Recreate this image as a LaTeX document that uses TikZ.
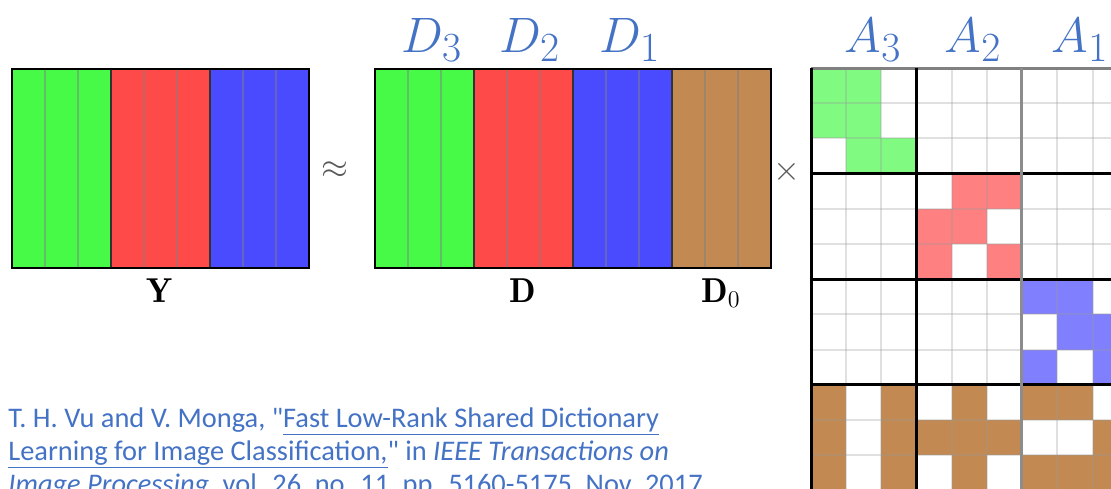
\documentclass[tikz,border=0pt]{standalone}
\usepackage{fontspec}
\newfontfamily\citefont{Carlito}
\definecolor{YGreen}{RGB}{72,250,72}
\definecolor{YRed}{RGB}{255,74,74}
\definecolor{YBlue}{RGB}{74,74,255}
\definecolor{DBrown}{RGB}{194,138,82}
\definecolor{AGreen}{RGB}{128,250,128}
\definecolor{ARed}{RGB}{255,128,128}
\definecolor{ABlue}{RGB}{128,128,255}
\definecolor{LabelBlue}{RGB}{68,114,196}

\begin{document}
\begin{tikzpicture}[x=0.5pt, y=-0.5pt,
    colsep/.style={draw=black!50, draw opacity=0.5, line width=0.7pt},
    blocksep/.style={draw=black!80, line width=0.9pt},
    gridline/.style={draw=black!40, draw opacity=0.3, line width=1pt},
    ablock/.style={draw=black, line width=1.5pt},
    sublbl/.style={LabelBlue, anchor=base, inner sep=0pt, font=\fontsize{24.88}{28}\selectfont},
    matlbl/.style={anchor=base, inner sep=0pt, font=\fontsize{17.28}{18}\selectfont},
    oplbl/.style={black!65, inner sep=0pt, font=\fontsize{17.28}{18}\selectfont},
    citeline/.style={LabelBlue, anchor=base west, inner sep=0pt, font=\citefont\fontsize{14.2}{16.5}\selectfont}]
  \useasboundingbox (0,0) rectangle (1111,488);
  \clip (0,0) rectangle (1111,488);

  % Y
  \foreach \clr [count=\k from 0] in {YGreen,YRed,YBlue}
    \fill[\clr] (12+99*\k,69) rectangle ++(99,199);
  \foreach \i in {1,2,4,5,7,8}
    \draw[colsep] (12+33*\i,69) -- ++(0,199);
  \foreach \i in {3,6}
    \draw[blocksep] (12+33*\i,69) -- ++(0,199);
  \draw[line width=1pt] (12,69) rectangle (309,268);
  \node[matlbl] (ylbl) at (160,302) {$\mathbf{Y}$};

  \node[oplbl] (approx) at (335,170) {$\approx$};

  % D = [D_3 D_2 D_1 D_0]
  \foreach \clr [count=\k from 0] in {YGreen,YRed,YBlue,DBrown}
    \fill[\clr] (375+99*\k,69) rectangle ++(99,199);
  \foreach \i in {1,2,4,5,7,8,10,11}
    \draw[colsep] (375+33*\i,69) -- ++(0,199);
  \foreach \i in {3,6,9}
    \draw[blocksep] (375+33*\i,69) -- ++(0,199);
  \draw[line width=1pt] (375,69) rectangle (771,268);
  \node[matlbl] (dlbl) at (523,302) {$\mathbf{D}$};
  \node[matlbl] (dzlbl) at (721,302) {$\mathbf{D}_0$};
  \node[sublbl] (d3) at (432,52) {$D_3$};
  \node[sublbl] (d2) at (530,52) {$D_2$};
  \node[sublbl] (d1) at (630,52) {$D_1$};

  \node[oplbl] (times) at (787,172) {$\times$};

  % A, cells
  \foreach \r/\c/\clr in {1/1/AGreen,1/2/AGreen,2/1/AGreen,2/2/AGreen,3/2/AGreen,3/3/AGreen,
      4/5/ARed,4/6/ARed,5/4/ARed,5/5/ARed,6/4/ARed,6/6/ARed,
      7/7/ABlue,7/8/ABlue,8/8/ABlue,8/9/ABlue,9/7/ABlue,9/9/ABlue,
      10/1/DBrown,10/3/DBrown,10/5/DBrown,10/7/DBrown,10/8/DBrown,
      11/1/DBrown,11/3/DBrown,11/4/DBrown,11/5/DBrown,11/6/DBrown,11/9/DBrown,
      12/1/DBrown,12/3/DBrown,12/5/DBrown,12/7/DBrown,12/8/DBrown,12/9/DBrown}
    \fill[\clr] (775.8+35.2*\c,32.8+35.2*\r) rectangle ++(35.2,35.2);
  \foreach \i in {1,...,8}
    \draw[gridline] (811+35.2*\i,68) -- ++(0,422);
  \foreach \j in {1,...,11}
    \draw[gridline] (811,68+35.2*\j) -- ++(302,0);
  \foreach \j in {1,2,3}
    \draw[ablock] (811,68+105.6*\j) -- ++(302,0);
  \draw[ablock, draw=black!50] (811,68) -- ++(302,0);
  \draw[ablock] (811,68) -- ++(0,422);
  \draw[ablock] (916.6,68) -- ++(0,422);
  \draw[ablock, draw=black!45] (1021.8,68) -- ++(0,422);
  \node[sublbl] (a3) at (873,52) {$A_3$};
  \node[sublbl] (a2) at (973,52) {$A_2$};
  \node[sublbl] (a1) at (1080,52) {$A_1$};

  % reference
  \node[citeline] (cite1) at (8,427) {T. H. Vu and V. Monga, "\underline{Fast Low-Rank Shared Dictionary}};
  \node[citeline] (cite2) at (8,460) {\underline{Learning for Image Classification,}" in \textit{IEEE Transactions on}};
  \node[citeline] (cite3) at (8,493) {\textit{Image Processing}, vol. 26, no. 11, pp. 5160-5175, Nov. 2017};
\end{tikzpicture}
\end{document}
